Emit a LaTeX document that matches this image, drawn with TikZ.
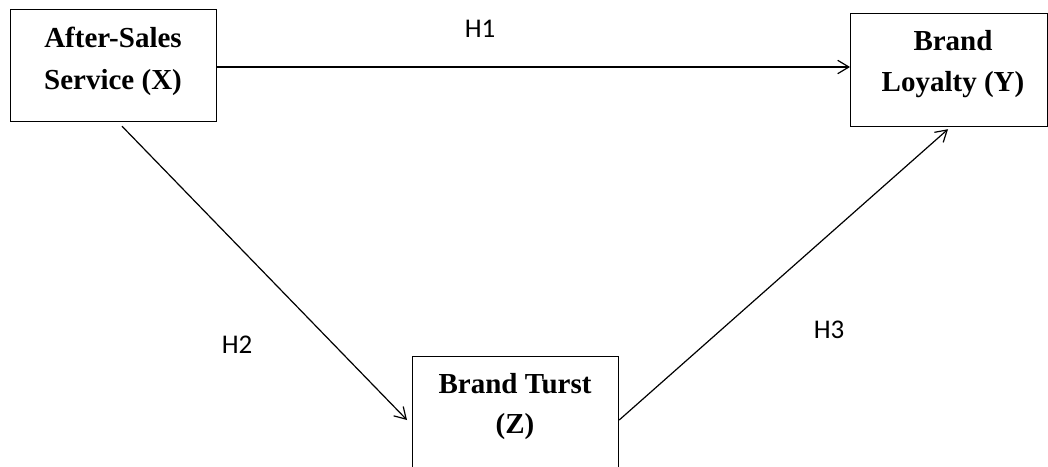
\documentclass[tikz,border=0pt]{standalone}
\usepackage{fontspec}
\setmainfont{Liberation Serif}
\newfontfamily\hfont{Carlito}
\usetikzlibrary{arrows.meta,calc}
\begin{document}
\begin{tikzpicture}[x=1pt,y=-1pt,
  varbox/.style={draw,line width=1.2pt,inner sep=0pt,anchor=north west},
  boxtext/.style={font=\fontsize{29}{42}\selectfont\bfseries,anchor=base,inner sep=0pt},
  hyp/.style={font=\hfont\fontsize{27}{32}\selectfont,anchor=base,inner sep=0pt},
  link/.style={line width=1.2pt,-{Straight Barb[angle=62:13pt,line width=1.2pt]}}]
\useasboundingbox (0,0) rectangle (1048,466);
% boxes
\node[varbox,minimum width=206pt,minimum height=112pt] (x) at (10,9) {};
\node[varbox,minimum width=197pt,minimum height=113pt] (y) at (850,13) {};
\node[varbox,minimum width=206pt,minimum height=130pt] (z) at (412,356) {};
% texts
\node[boxtext] (x1) at (113,47) {After-Sales};
\node[boxtext] (x2) at (113,89) {Service (X)};
\node[boxtext] (y1) at (953,50) {Brand};
\node[boxtext] (y2) at (953,91) {Loyalty (Y)};
\node[boxtext] (z1) at (515,393) {Brand Turst};
\node[boxtext] (z2) at (515,433) {(Z)};
% hypothesis labels
\node[hyp] (h1) at (480,37) {H1};
\node[hyp] (h2) at (237,353) {H2};
\node[hyp] (h3) at (829,338) {H3};
% connectors
\coordinate (xs) at ($(x.south west)+(112,4)$);
\coordinate (ze) at ($(z.north west)+(-5,64)$);
\coordinate (zs) at ($(z.north east)+(0,64)$);
\coordinate (ye) at ($(y.south west)+(98,2)$);
\draw[link] ($(x.north east)+(0,58)$) -- ($(y.north west)+(0,54)$);
\draw[link] (xs) -- (ze);
\draw[link] (zs) -- (ye);
\end{tikzpicture}
\end{document}
